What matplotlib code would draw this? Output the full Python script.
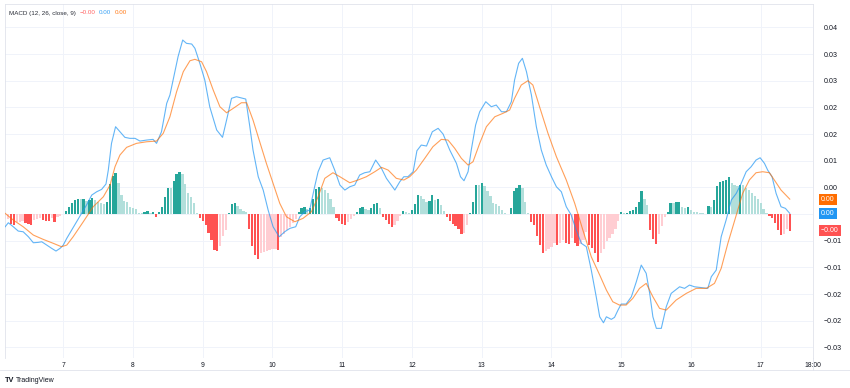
import numpy as np
import matplotlib
matplotlib.use("Agg")
import matplotlib.pyplot as plt
from matplotlib.lines import Line2D
from matplotlib.transforms import blended_transform_factory

plt.rcParams['font.family'] = ['Liberation Sans', 'DejaVu Sans']

# hours counted from day 7 00:00, one histogram bar per hour
hist_start = -20
# MACD histogram, in units of 1e-4
hist = [
    -9.4, -8.4, -18.8, -19.7, -15.0, -14.1, -13.1, -16.9, -18.8, -20.6,
    -11.3, -8.4, -7.5, -11.3, -12.2, -13.1, -7.5, -15.0, -5.6, -2.8,
    0.6, 6.6, 14.1, 20.6, 26.3, 29.1, 28.5, 29.1, 25.3, 27.2,
    30.0, 27.2, 23.5, 20.1, 18.8, 23.1, 56.3, 71.3, 77.9, 58.2,
    36.6, 25.3, 22.5, 13.1, 12.2, 10.3, 2.8, 2.4, 4.7, 5.1,
    1.3, 4.3, -4.7, 4.3, 13.1, 31.9, 49.7, 49.3, 61.9, 76.0,
    78.8, 76.0, 57.2, 40.3, 32.8, 20.1, 2.4, -6.6, -12.2, -20.6,
    -35.6, -48.2, -67.0, -70.0, -60.6, -41.8, -29.5, 1.9, 19.3, 20.6,
    14.4, 9.9, 6.2, 3.8, -28.1, -60.0, -76.9, -84.4, -73.2, -70.4,
    -68.5, -67.0, -66.2, -65.7, -67.5, -43.1, -37.5, -30.0, -23.5, -16.9,
    -9.4, 4.7, 11.3, 13.1, 9.4, 11.3, 28.1, 46.9, 50.7, 49.7,
    46.0, 40.3, 29.1, 14.1, -6.6, -12.2, -18.8, -20.6, -15.0, -9.4,
    -2.8, 3.8, 10.9, 13.1, 9.4, 7.5, 11.3, 18.8, 20.6, 11.3,
    -5.1, -11.3, -18.8, -25.0, -20.6, -13.7, -3.8, 5.1, 3.2, 1.9,
    8.1, 19.3, 36.2, 33.2, 28.7, 21.9, 23.8, 35.1, 26.8, 27.6,
    17.4, 5.1, -5.6, -13.7, -18.2, -23.1, -28.1, -37.0, -35.6, -20.1,
    1.9, 21.9, 55.0, 53.8, 58.2, 52.0, 43.7, 33.2, 20.6, 19.3,
    14.4, 8.1, 1.9, 0.6, 11.3, 42.6, 48.8, 53.8, 48.8, 21.9,
    1.9, -15.6, -20.1, -41.8, -57.6, -73.2, -70.0, -65.7, -61.9, -54.4,
    -57.6, -54.4, -48.2, -54.4, -55.3, -45.0, -54.4, -59.5, -55.3, -48.2,
    -33.8, -58.2, -63.8, -73.2, -90.0, -73.2, -65.7, -50.7, -44.1, -37.5,
    -28.1, -13.1, 3.2, 1.5, 2.8, 5.1, 8.4, 14.1, 23.5, 43.1,
    29.1, 17.4, -30.0, -46.9, -55.3, -37.5, -22.5, -5.6, 4.7, 21.6,
    20.6, 22.5, 23.1, 13.7, 11.3, 12.6, 8.1, 4.7, 3.2, 1.9,
    1.3, 0.6, 15.9, 13.1, 27.2, 52.5, 61.0, 62.8, 64.7, 69.4,
    58.2, 55.3, 53.5, 55.3, 54.4, 48.8, 45.0, 39.4, 33.8, 28.1,
    20.6, 9.4, 1.9, -2.8, -7.5, -16.9, -30.0, -40.0, -37.0, -28.1,
    -31.3,
]

# MACD line (hour, value in 1e-4)
macd_h = [
    -20.0, -18.9, -17.2, -15.5, -13.8, -12.0, -10.3, -8.6, -7.4, -5.7,
    -4.0, -2.5, -1.1, 0.0, 1.2, 2.9, 4.6, 6.3, 8.0, 9.8,
    11.5, 13.2, 14.7, 15.5, 16.6, 18.0, 19.5, 21.2, 22.9, 24.7,
    26.4, 28.7, 30.9, 32.1, 33.8, 35.6, 36.7, 37.8, 39.5, 41.1,
    42.4, 44.2, 45.3, 47.0, 48.7, 50.4, 52.8, 54.8, 56.2, 57.9,
    59.6, 62.8, 64.2, 65.3, 67.1, 68.8, 70.5, 72.2, 74.3, 76.2,
    78.0, 80.0, 81.4, 83.1, 84.8, 86.5, 87.7, 89.4, 91.7, 93.4,
    95.2, 96.9, 98.6, 100.3, 102.0, 103.7, 105.5, 107.5, 109.5, 111.2,
    114.1, 115.8, 117.2, 118.6, 120.4, 121.7, 123.2, 125.0, 127.0, 129.0,
    130.7, 133.0, 135.3, 136.7, 137.9, 139.3, 140.4, 141.9, 143.3, 145.4,
    147.3, 149.0, 150.8, 152.5, 154.2, 155.3, 156.7, 158.0, 159.4, 161.1,
    162.8, 164.5, 166.2, 168.0, 169.7, 171.4, 173.1, 174.8, 176.5, 178.3,
    180.0, 181.7, 183.4, 184.6, 185.9, 186.9, 188.6, 189.7, 190.9, 192.0,
    193.7, 195.5, 197.2, 198.9, 200.6, 201.8, 202.9, 204.1, 205.8, 207.5,
    209.2, 212.1, 213.8, 215.5, 217.2, 218.9, 221.8, 223.0, 224.7, 226.4,
    228.1, 229.9, 231.6, 233.3, 235.0, 236.7, 238.4, 239.8, 241.3, 242.4,
    243.9, 245.3, 247.0, 248.5, 250.0,
]
macd_v = [
    -23.8, -16.3, -23.8, -31.9, -33.2, -42.6, -53.8, -53.1, -52.0, -58.2,
    -64.3, -69.4, -64.3, -58.2, -45.6, -30.0, -14.4, 1.3, 16.9, 35.6,
    41.8, 46.3, 56.3, 82.5, 132.6, 163.8, 154.4, 143.9, 142.0, 142.0,
    136.9, 138.8, 140.1, 132.6, 154.4, 207.7, 223.2, 251.4, 295.1, 326.4,
    320.2, 318.9, 310.9, 282.7, 251.4, 201.3, 157.6, 143.9, 176.3, 217.1,
    220.1, 215.7, 163.8, 120.1, 70.0, 45.0, 7.5, -23.8, -42.6, -33.2,
    -26.8, -23.8, -5.1, 4.3, 7.5, 51.2, 79.4, 101.3, 105.6, 82.5,
    54.4, 45.0, 51.2, 54.4, 73.2, 77.5, 79.4, 101.3, 85.7, 67.0,
    45.0, 60.6, 70.0, 70.0, 79.4, 118.8, 129.4, 127.6, 154.4, 160.8,
    150.1, 120.1, 95.1, 70.0, 62.5, 79.4, 120.1, 167.0, 191.9, 210.7,
    201.3, 204.5, 191.9, 191.9, 210.7, 251.4, 282.7, 292.1, 267.0, 223.2,
    163.8, 120.1, 91.9, 70.0, 51.2, 41.8, 13.7, -1.9, -30.0, -55.0,
    -61.3, -105.1, -155.1, -192.7, -203.9, -192.7, -197.5, -193.8, -180.1, -168.8,
    -168.8, -155.1, -127.0, -95.7, -111.2, -148.8, -192.7, -214.4, -214.4, -173.9,
    -148.8, -136.4, -139.4, -133.2, -136.4, -137.5, -139.4, -117.6, -105.1, -42.6,
    -11.3, 26.3, 38.8, 57.6, 79.4, 88.7, 101.3, 105.6, 95.1, 82.5,
    70.0, 38.8, 13.7, 10.7, 1.3,
]

# signal line (hour, value in 1e-4)
sig_h = [
    -20.0, -17.2, -13.8, -10.3, -6.9, -3.4, -0.6, 1.2, 3.4, 6.9,
    10.3, 13.8, 16.1, 17.8, 19.5, 21.8, 25.2, 28.7, 32.1, 34.4,
    36.7, 39.0, 41.3, 43.6, 45.3, 47.6, 49.3, 51.6, 53.9, 56.2,
    58.5, 61.3, 63.1, 65.3, 67.6, 69.9, 72.2, 74.5, 76.8, 79.7,
    82.5, 85.4, 87.7, 90.0, 92.8, 95.2, 98.6, 101.4, 104.3, 107.2,
    109.5, 111.8, 114.6, 117.2, 119.2, 121.5, 124.4, 127.2, 130.1, 132.4,
    134.7, 137.0, 139.3, 141.0, 143.3, 145.6, 148.5, 151.3, 153.6, 155.3,
    157.6, 159.9, 161.6, 163.9, 166.8, 169.7, 173.1, 176.0, 178.8, 181.7,
    184.6, 186.9, 189.1, 191.4, 193.7, 196.0, 198.3, 200.6, 202.9, 205.2,
    207.5, 210.9, 214.4, 217.8, 221.3, 224.1, 226.4, 228.7, 231.6, 233.8,
    236.1, 238.4, 240.7, 243.0, 244.7, 247.0, 250.0,
]
sig_v = [
    1.3, -11.3, -23.8, -39.4, -47.5, -55.0, -61.3, -58.2, -42.6, -14.4,
    13.7, 32.5, 54.4, 88.7, 110.7, 125.1, 132.6, 135.6, 136.9, 151.4,
    182.5, 229.4, 267.0, 287.6, 290.2, 285.7, 267.0, 232.6, 201.3, 190.0,
    198.3, 208.8, 208.8, 176.3, 135.6, 95.1, 57.6, 20.1, -5.1, -14.4,
    -8.1, 4.3, 32.5, 67.0, 77.5, 70.0, 58.7, 63.8, 70.0, 79.4,
    87.6, 82.5, 67.0, 63.8, 70.0, 82.5, 104.5, 126.3, 140.1, 138.8,
    123.3, 104.5, 91.9, 98.1, 132.6, 163.8, 182.5, 188.9, 195.1, 217.1,
    242.0, 250.1, 242.0, 201.3, 151.4, 107.5, 63.8, 20.1, -30.0, -80.1,
    -114.4, -142.6, -164.5, -170.7, -170.7, -158.1, -139.4, -130.0, -155.1, -176.9,
    -180.1, -161.3, -148.8, -139.4, -139.4, -130.0, -101.9, -55.0, -1.9, 38.8,
    63.8, 77.5, 79.4, 77.5, 63.8, 45.0, 28.0,
]

day_ticks = [0, 24, 48, 72, 96, 120, 144, 168, 192, 216, 240, 258]
day_labels = ['7', '8', '9', '10', '11', '12', '13', '14', '15', '16', '17', '18:00']
price_ticks = [0.035, 0.030, 0.025, 0.020, 0.015, 0.010, 0.005, 0.0,
               -0.005, -0.010, -0.015, -0.020, -0.025]
price_labels = ['0.04', '0.03', '0.03', '0.02', '0.02', '0.01', '0.00', '',
                '\u22120.01', '\u22120.01', '\u22120.02', '\u22120.02', '\u22120.03']

UP, UP_LT = '#26A69A', '#B2DFDB'
DN, DN_LT = '#FF5252', '#FFCDD2'
BLUE, ORANGE = '#2196F3', '#FF6D00'
GRID, FRAME, TXT = '#F0F3FA', '#E0E3EB', '#131722'

hist = np.array(hist) * 1e-4
macd_v = np.array(macd_v) * 1e-4
sig_v = np.array(sig_v) * 1e-4
hours = np.arange(hist_start, hist_start + len(hist))

colors = []
for i, v in enumerate(hist):
    p = hist[i - 1] if i else v
    if v >= 0:
        colors.append(UP if v > p else UP_LT)
    else:
        colors.append(DN_LT if v >= p else DN)

fig = plt.figure(figsize=(8.5, 3.88), dpi=100)
W, H = 850, 388
ax = fig.add_axes([5 / W, 1 - 358 / H, (813 - 5) / W, (358 - 4) / H])

for d in day_ticks[:-1]:
    ax.axvline(d, color=GRID, lw=0.7, zorder=0)
for t in price_ticks:
    ax.axhline(t, color=GRID, lw=0.7, zorder=0)

ax.bar(hours, hist, width=0.78, color=colors, zorder=2)
ax.plot(macd_h, macd_v, color=BLUE, lw=0.8, alpha=0.7, zorder=3)
ax.plot(sig_h, sig_v, color=ORANGE, lw=0.8, alpha=0.65, zorder=3)

ax.set_xlim(-20.05, 257.8)
ax.set_ylim(-0.0270, 0.0394)

ax.set_xticks(day_ticks)
ax.set_xticklabels(day_labels)
ax.yaxis.tick_right()
ax.set_yticks(price_ticks)
ax.set_yticklabels(price_labels)
ax.tick_params(axis='x', length=0, pad=3, labelsize=4.9, colors=TXT)
ax.tick_params(axis='y', length=0, pad=8, labelsize=5.1, colors=TXT)
for lab in ax.get_yticklabels():
    lab.set_horizontalalignment('left')

for s in ['left', 'top', 'right']:
    ax.spines[s].set_color(FRAME)
    ax.spines[s].set_linewidth(0.6)
ax.spines['bottom'].set_visible(False)

# frame lines of the time axis
fig.add_artist(Line2D([0, 1], [1 - 370 / H, 1 - 370 / H], color=FRAME, lw=0.6))
fig.add_artist(Line2D([813 / W, 813 / W], [1 - 370 / H, 1 - 358 / H], color=FRAME, lw=0.6))

# last-value labels on the price axis
tr = blended_transform_factory(ax.transAxes, ax.transData)
for val, col, txt in [(sig_v[-1], ORANGE, '0.00'),
                      (macd_v[-1], BLUE, '0.00'),
                      (hist[-1], DN, '\u22120.00')]:
    ax.text(1.0 + 8 / 808, val, txt, transform=tr, color='white', fontsize=5.0,
            va='center', ha='left', clip_on=False,
            bbox=dict(boxstyle='square,pad=0.3', fc=col, ec='none'))

# legend line, each value placed right after the previous text
renderer = fig.canvas.get_renderer()
x = 9
for txt, col in [('MACD (12, 26, close, 9)', TXT), ('\u22120.00', DN),
                 ('0.00', BLUE), ('0.00', ORANGE)]:
    t = fig.text(x / W, 1 - 13 / H, txt, fontsize=4.5, color=col, va='center', alpha=0.9)
    x = t.get_window_extent(renderer).x1 + 3.5

# watermark
fig.text(5 / W, 1 - 380 / H, 'TV', fontsize=5.3, fontweight='bold', color=TXT, va='center')
fig.text(16 / W, 1 - 380 / H, 'TradingView', fontsize=5.0, color=TXT, va='center')

fig.savefig('out.png', dpi=100, facecolor='white')
